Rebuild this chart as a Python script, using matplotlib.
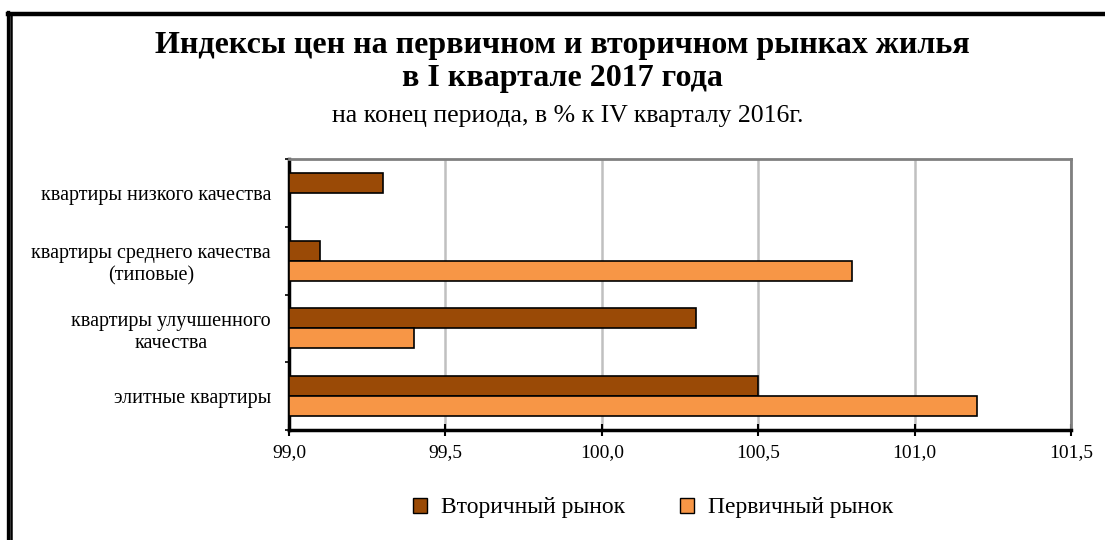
import numpy as np
import matplotlib.pyplot as plt
from matplotlib.lines import Line2D
from matplotlib.patches import Patch
from matplotlib.ticker import FuncFormatter

categories = ["квартиры низкого качества",
              "квартиры среднего качества\n(типовые)",
              "квартиры улучшенного\nкачества",
              "элитные квартиры"]
secondary = [99.3, 99.1, 100.3, 100.5]
primary = [np.nan, 100.8, 99.4, 101.2]
x_ticks = [99.0, 99.5, 100.0, 100.5, 101.0, 101.5]

c_sec = "#9a4a06"
c_pri = "#f79646"

plt.rcParams["font.family"] = ["Liberation Serif", "DejaVu Serif"]

W, H = 1105, 540
fig = plt.figure(figsize=(W / 100, H / 100), dpi=100)
ax = fig.add_axes([289 / W, 1 - 430 / H, (1071 - 289) / W, (430 - 159) / H])

y = np.arange(len(categories))
h = 0.295
base = 99.0
ax.barh(y - h / 2, np.array(secondary) - base, left=base, height=h,
        color=c_sec, edgecolor="black", linewidth=1.2, zorder=3)
ax.barh(y + h / 2, np.array(primary) - base, left=base, height=h,
        color=c_pri, edgecolor="black", linewidth=1.2, zorder=3)

ax.set_xlim(99.0, 101.5)
ax.set_ylim(len(categories) - 0.5, -0.5)
ax.set_xticks(x_ticks)
ax.xaxis.set_major_formatter(FuncFormatter(lambda v, p: f"{v:.1f}".replace(".", ",")))
ax.tick_params(axis="x", direction="inout", length=8, width=1.5, labelsize=14, pad=6)
ax.grid(axis="x", color="#c0c0c0", linewidth=1.8, zorder=0)

ax.set_yticks(y)
ax.set_yticklabels(categories)
ax.tick_params(axis="y", length=0, labelsize=14.5, pad=13)
for lab in ax.get_yticklabels():
    lab.set_multialignment("center")
ax.set_yticks(np.arange(len(categories) + 1) - 0.5, minor=True)
ax.tick_params(axis="y", which="minor", length=3, width=1.2, direction="out")

ax.spines["left"].set_linewidth(2.5)
ax.spines["bottom"].set_linewidth(2.5)
ax.spines["top"].set_color("#808080")
ax.spines["right"].set_color("#808080")
ax.spines["top"].set_linewidth(2)
ax.spines["right"].set_linewidth(2)

fig.text(562 / W, 1 - 62 / H, "Индексы цен на первичном и вторичном рынках жилья\nв I квартале 2017 года",
         ha="center", va="center", fontsize=23, fontweight="bold", linespacing=1.15)
fig.text(568 / W, 1 - 116 / H, "на конец периода, в % к IV кварталу 2016г.",
         ha="center", va="center", fontsize=18.5)

handles = [Patch(facecolor=c_sec, edgecolor="black", label="Вторичный рынок"),
           Patch(facecolor=c_pri, edgecolor="black", label="Первичный рынок")]
fig.legend(handles=handles, loc="center", bbox_to_anchor=(653 / W, 1 - 508 / H),
           ncol=2, frameon=False, fontsize=17, handlelength=0.6, handleheight=0.6,
           columnspacing=2.3, handletextpad=0.6)

# page frame
def px_line(x0, y0, x1, y1, lw):
    fig.add_artist(Line2D([x0 / W, x1 / W], [1 - y0 / H, 1 - y1 / H],
                          color="black", linewidth=lw, transform=fig.transFigure))

px_line(8, 14, W, 14, 3.2)
px_line(8, 12, 8, H, 2.4)
px_line(11, 15, 11, H, 1.8)

fig.savefig("out.png", dpi=100)
